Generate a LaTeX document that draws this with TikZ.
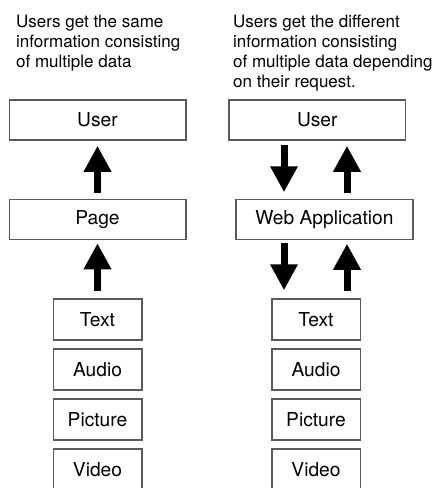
\documentclass[tikz,border=0pt]{standalone}
\usepackage{fontspec}
\setmainfont{TeX Gyre Heros}
\usepackage{tikz}
\usetikzlibrary{arrows.meta}
\definecolor{edgegray}{RGB}{88,90,96}

\tikzset{
  box/.style={draw=edgegray,line width=1.5pt,inner sep=0pt,
    minimum width=176.5pt,minimum height=40pt,
    font=\fontsize{19.2}{22}\selectfont},
  mediabox/.style={box,minimum width=88.5pt,minimum height=41pt},
  caption/.style={inner sep=0pt,anchor=north west,align=left,
    font=\fontsize{17}{20}\selectfont},
  bigarrow/.style={line width=7pt,-{Triangle[width=26pt,length=26pt]}}
}

\begin{document}
\begin{tikzpicture}[x=1pt,y=-1pt]
      \useasboundingbox (0,0) rectangle (438,488);
      % captions
      \node[caption] (capA) at (16,15) {Users get the same\\information consisting\\of multiple data};
      \node[caption] (capB) at (233,15) {Users get the different\\information consisting\\of multiple data depending\\on their request.};
      % left column
      \node[box] (userA) at (97.5,120) {User};
      \node[box] (pageA) at (97.5,219.5) {Page};
      \foreach \t [count=\i] in {Text,Audio,Picture,Video} {
        \node[mediabox] (mA\i) at (97.5,{319.5+50*(\i-1)}) {\t};
      }
      % right column
      \node[box] (userB) at (317.3,120) {User};
      \node[box,minimum width=176.7pt] (webapp) at (324.5,219.5) {Web Application};
      \foreach \t [count=\i] in {Text,Audio,Picture,Video} {
        \node[mediabox] (mB\i) at (316,{319.5+50*(\i-1)}) {\t};
      }
      % arrows
      \draw[bigarrow,shorten <=6pt,shorten >=5pt] (pageA.north) -- (userA.south);
      \draw[bigarrow,shorten <=7pt,shorten >=3pt] (mA1.north) -- (pageA.south);
      \draw[bigarrow,shorten <=4pt,shorten >=6.5pt] ([xshift=-32pt]mB1.north |- userB.south) -- ([xshift=-32pt]mB1.north |- webapp.north);
      \draw[bigarrow,shorten <=5.5pt,shorten >=5pt] ([xshift=31pt]mB1.north |- webapp.north) -- ([xshift=31pt]mB1.north |- userB.south);
      \draw[bigarrow,shorten <=3pt,shorten >=8pt] ([xshift=-32pt]mB1.north |- webapp.south) -- ([xshift=-32pt]mB1.north);
      \draw[bigarrow,shorten <=7pt,shorten >=3.5pt] ([xshift=31pt]mB1.north) -- ([xshift=31pt]mB1.north |- webapp.south);
      %\draw[help lines] (0,0) grid[step=50] (438,488);
\end{tikzpicture}
\end{document}
